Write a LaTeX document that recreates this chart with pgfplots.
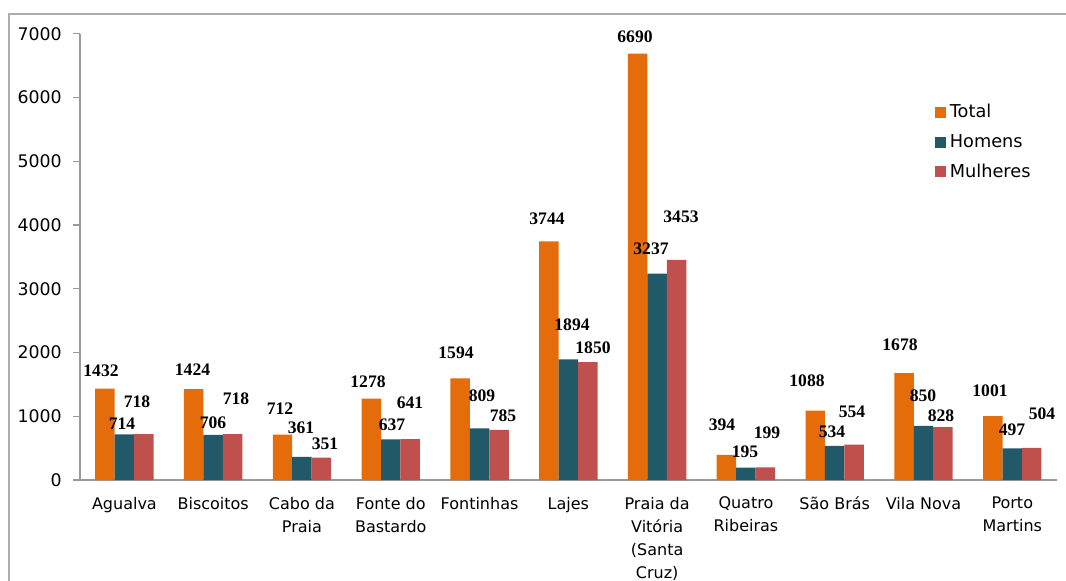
\documentclass[border=0pt]{standalone}
\usepackage{pgfplots}
\pgfplotsset{compat=1.18}
\usepackage{fontspec}
\setmainfont{DejaVu Sans}
\newfontfamily\tnr{Liberation Serif}
\definecolor{cTotal}{HTML}{E46C0A}
\definecolor{cHom}{HTML}{215968}
\definecolor{cMul}{HTML}{C0504D}
\definecolor{axgray}{HTML}{9A9A9A}
\begin{document}
\begin{tikzpicture}
\path[use as bounding box, clip] (0,0) rectangle (799.5pt,-435.75pt);
\draw[axgray!80, line width=1.4pt] (6.5pt,-500pt) -- (6.5pt,-10.7pt) -- (820pt,-10.7pt);
\begin{axis}[
  at={(60pt,-360pt)}, anchor=south west,
  scale only axis, width=732.5pt, height=334.7pt,
  ybar=0pt, bar width=14.6pt,
  xmin=-0.5, xmax=10.5, ymin=0, ymax=7000,
  axis x line*=bottom, axis y line*=left,
  axis line style={-, axgray, line width=0.9pt},
  tick align=outside,
  major tick length=5.25pt, minor tick length=5.25pt,
  ytick={0,1000,...,7000},
  ytick style={axgray, line width=0.9pt},
  xtick={0,...,10},
  xtick style={draw=none},
  minor xtick={-0.5,0.5,...,10.5},
  minor x tick style={axgray, line width=0.9pt},
  xticklabels={Agualva,Biscoitos,{Cabo da\\Praia},{Fonte do\\Bastardo},Fontinhas,Lajes,{Praia da\\Vitória\\(Santa\\Cruz)},{Quatro\\Ribeiras},São Brás,Vila Nova,{Porto\\Martins}},
  xticklabel style={align=center, font=\fontsize{12}{17.25}\selectfont, yshift=-4pt},
  yticklabel style={font=\fontsize{13}{15}\selectfont, xshift=-5pt},
  /pgf/number format/assume math mode=true,
  /pgf/number format/1000 sep={},
  legend style={draw=none, fill=none, at={(0.875,0.848)}, anchor=north west,
    font=\fontsize{13.3}{15}\selectfont, row sep=7pt, inner sep=0pt,
    nodes={inner xsep=3pt}},
  legend cell align=left,
  legend image code/.code={\fill[#1] (0pt,-4.1pt) rectangle (8.25pt,4.15pt);},
]
\addplot[fill=cTotal, draw=none] coordinates {(0,1432) (1,1424) (2,712) (3,1278) (4,1594) (5,3744) (6,6690) (7,394) (8,1088) (9,1678) (10,1001)};
\addplot[fill=cHom, draw=none] coordinates {(0,714) (1,706) (2,361) (3,637) (4,809) (5,1894) (6,3237) (7,195) (8,534) (9,850) (10,497)};
\addplot[fill=cMul, draw=none] coordinates {(0,718) (1,718) (2,351) (3,641) (4,785) (5,1850) (6,3453) (7,199) (8,554) (9,828) (10,504)};
\legend{Total,Homens,Mulheres}
\end{axis}
\begin{scope}[x=0.75pt,y=-0.75pt, every node/.style={font=\tnr\bfseries\fontsize{13.2}{15}\selectfont, inner sep=0pt}]
\node at (101,370.7) {1432}; \node at (122,423.3) {714}; \node at (137,401.7) {718};
\node at (192.5,369.3) {1424}; \node at (213,422.7) {706}; \node at (236,398.7) {718};
\node at (280,409) {712}; \node at (301,427.3) {361}; \node at (325,443.3) {351};
\node at (368,381.7) {1278}; \node at (392,425) {637}; \node at (410,402.7) {641};
\node at (456,352.7) {1594}; \node at (482,396) {809}; \node at (503,416) {785};
\node at (547,218.3) {3744}; \node at (572,325) {1894}; \node at (593,347.7) {1850};
\node at (635,36.7) {6690}; \node at (651,248.3) {3237}; \node at (681,216.7) {3453};
\node at (722,425) {394}; \node at (745,451.7) {195}; \node at (767,432.7) {199};
\node at (807,380.7) {1088}; \node at (832,431.7) {534}; \node at (852,411.7) {554};
\node at (900,345) {1678}; \node at (923,396) {850}; \node at (941,416) {828};
\node at (990,390.7) {1001}; \node at (1012,429.3) {497}; \node at (1042,413.3) {504};
\end{scope}
\end{tikzpicture}
\end{document}
